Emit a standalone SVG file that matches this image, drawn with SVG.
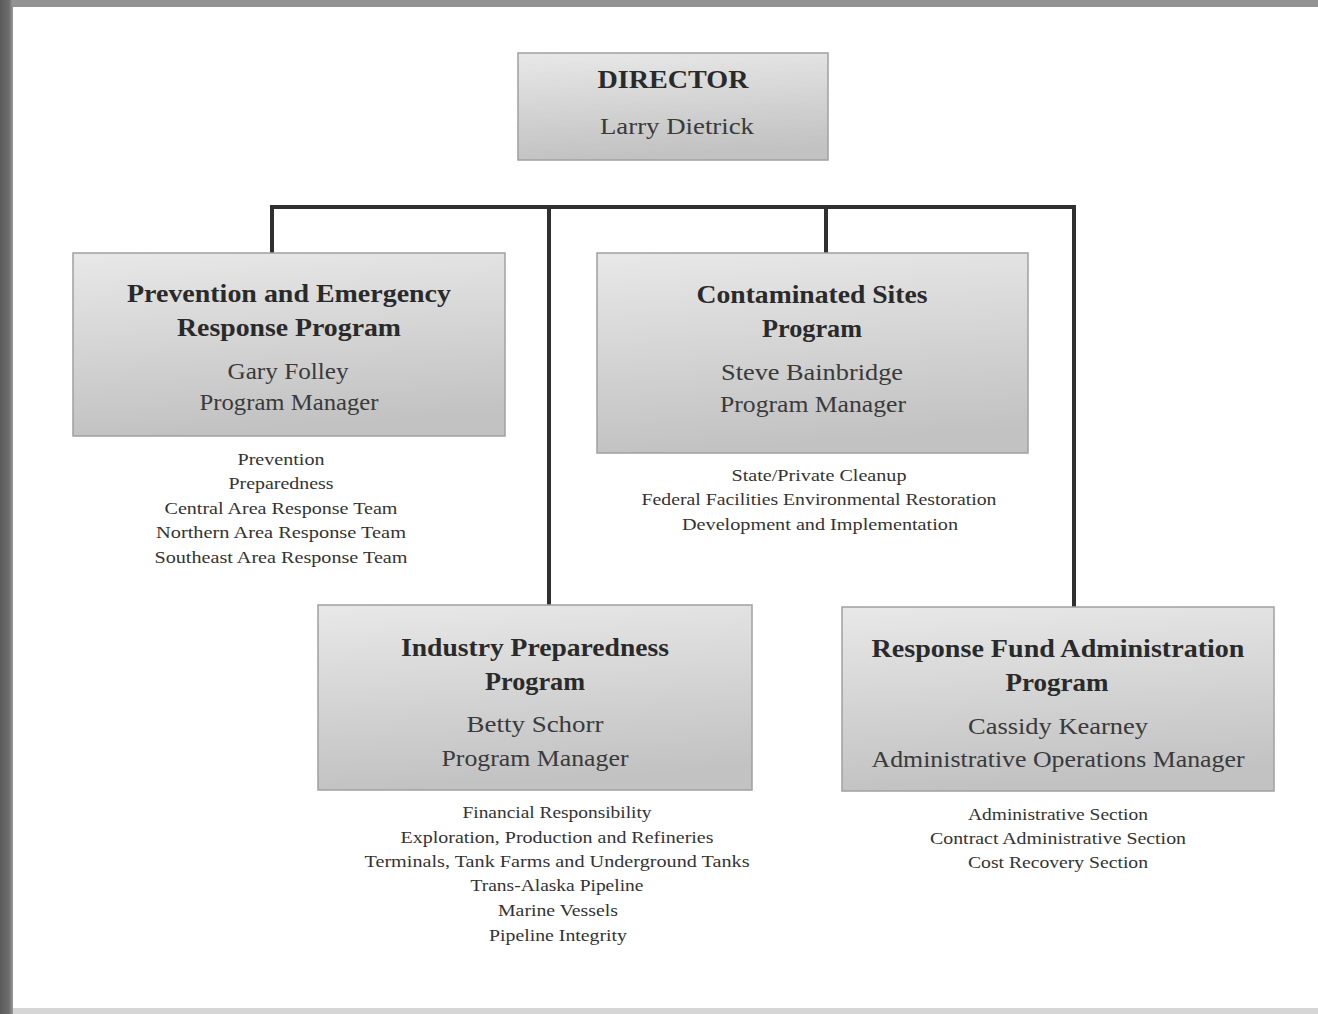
<svg xmlns="http://www.w3.org/2000/svg" width="1318" height="1014" viewBox="0 0 1318 1014">
<defs>
<linearGradient id="boxg" x1="0" y1="0" x2="0.15" y2="1">
<stop offset="0" stop-color="#e8e8e8"/>
<stop offset="1" stop-color="#c2c2c2"/>
</linearGradient>
<linearGradient id="leftb" x1="0" y1="0" x2="1" y2="0">
<stop offset="0" stop-color="#5a5a5a"/>
<stop offset="0.7" stop-color="#6e6e6e"/>
<stop offset="1" stop-color="#9a9a9a"/>
</linearGradient>
</defs>
<style>
.box{fill:url(#boxg);stroke:#a0a0a0;stroke-width:1.5}
.t{font-family:"Liberation Serif","Times New Roman",serif;text-anchor:middle;fill:#2e2e2e}
.b{font-weight:bold;font-size:25px;fill:#2a2a2a}
.n{font-size:24px;fill:#3a3a3a}
.s{font-size:17px;fill:#333}
.c{stroke:#303030;stroke-width:4;fill:none;stroke-linecap:square}
</style>
<rect x="0" y="0" width="1318" height="1014" fill="#ffffff"/>
<rect x="0" y="0" width="1318" height="7" fill="#939393"/>
<rect x="0" y="1008" width="1318" height="6" fill="#d6d6d6"/>
<rect x="0" y="0" width="13" height="1014" fill="url(#leftb)"/>

<g id="connectors">
<path class="c" d="M272 253 V207 H1074 V606"/>
<path class="c" d="M549 207 V605"/>
<path class="c" d="M826 207 V253"/>
</g>

<g id="director">
<rect class="box" x="518" y="53" width="310" height="107"/>
<text class="t b" x="673" y="88" font-size="26" textLength="151" lengthAdjust="spacingAndGlyphs">DIRECTOR</text>
<text class="t n" x="677" y="134" font-size="26" textLength="154" lengthAdjust="spacingAndGlyphs">Larry Dietrick</text>
</g>

<g id="prevention">
<rect class="box" x="73" y="253" width="432" height="183"/>
<text class="t b" x="289" y="302" textLength="324" lengthAdjust="spacingAndGlyphs">Prevention and Emergency</text>
<text class="t b" x="289" y="336" textLength="224" lengthAdjust="spacingAndGlyphs">Response Program</text>
<text class="t n" x="288" y="379" textLength="121" lengthAdjust="spacingAndGlyphs">Gary Folley</text>
<text class="t n" x="289" y="410" textLength="179" lengthAdjust="spacingAndGlyphs">Program Manager</text>
<text class="t s" x="281" y="465" textLength="87" lengthAdjust="spacingAndGlyphs">Prevention</text>
<text class="t s" x="281" y="489" textLength="105" lengthAdjust="spacingAndGlyphs">Preparedness</text>
<text class="t s" x="281" y="514" textLength="233" lengthAdjust="spacingAndGlyphs">Central Area Response Team</text>
<text class="t s" x="281" y="538" textLength="250" lengthAdjust="spacingAndGlyphs">Northern Area Response Team</text>
<text class="t s" x="281" y="563" textLength="253" lengthAdjust="spacingAndGlyphs">Southeast Area Response Team</text>
</g>

<g id="contaminated">
<rect class="box" x="597" y="253" width="431" height="200"/>
<text class="t b" x="812" y="303" textLength="231" lengthAdjust="spacingAndGlyphs">Contaminated Sites</text>
<text class="t b" x="812" y="337" textLength="100" lengthAdjust="spacingAndGlyphs">Program</text>
<text class="t n" x="812" y="380" textLength="182" lengthAdjust="spacingAndGlyphs">Steve Bainbridge</text>
<text class="t n" x="813" y="412" textLength="186" lengthAdjust="spacingAndGlyphs">Program Manager</text>
<text class="t s" x="819" y="481" textLength="175" lengthAdjust="spacingAndGlyphs">State/Private Cleanup</text>
<text class="t s" x="819" y="505" textLength="355" lengthAdjust="spacingAndGlyphs">Federal Facilities Environmental Restoration</text>
<text class="t s" x="820" y="530" textLength="276" lengthAdjust="spacingAndGlyphs">Development and Implementation</text>
</g>

<g id="industry">
<rect class="box" x="318" y="605" width="434" height="185"/>
<text class="t b" x="535" y="656" textLength="268" lengthAdjust="spacingAndGlyphs">Industry Preparedness</text>
<text class="t b" x="535" y="690" textLength="100" lengthAdjust="spacingAndGlyphs">Program</text>
<text class="t n" x="535" y="732" textLength="137" lengthAdjust="spacingAndGlyphs">Betty Schorr</text>
<text class="t n" x="535" y="766" textLength="187" lengthAdjust="spacingAndGlyphs">Program Manager</text>
<text class="t s" x="557" y="818" textLength="189" lengthAdjust="spacingAndGlyphs">Financial Responsibility</text>
<text class="t s" x="557" y="843" textLength="313" lengthAdjust="spacingAndGlyphs">Exploration, Production and Refineries</text>
<text class="t s" x="557" y="867" textLength="385" lengthAdjust="spacingAndGlyphs">Terminals, Tank Farms and Underground Tanks</text>
<text class="t s" x="557" y="891" textLength="173" lengthAdjust="spacingAndGlyphs">Trans-Alaska Pipeline</text>
<text class="t s" x="558" y="916" textLength="120" lengthAdjust="spacingAndGlyphs">Marine Vessels</text>
<text class="t s" x="558" y="941" textLength="138" lengthAdjust="spacingAndGlyphs">Pipeline Integrity</text>
</g>

<g id="responsefund">
<rect class="box" x="842" y="607" width="432" height="184"/>
<text class="t b" x="1058" y="657" textLength="373" lengthAdjust="spacingAndGlyphs">Response Fund Administration</text>
<text class="t b" x="1057" y="691" textLength="103" lengthAdjust="spacingAndGlyphs">Program</text>
<text class="t n" x="1058" y="734" textLength="180" lengthAdjust="spacingAndGlyphs">Cassidy Kearney</text>
<text class="t n" x="1058" y="767" textLength="373" lengthAdjust="spacingAndGlyphs">Administrative Operations Manager</text>
<text class="t s" x="1058" y="820" textLength="180" lengthAdjust="spacingAndGlyphs">Administrative Section</text>
<text class="t s" x="1058" y="844" textLength="256" lengthAdjust="spacingAndGlyphs">Contract Administrative Section</text>
<text class="t s" x="1058" y="868" textLength="180" lengthAdjust="spacingAndGlyphs">Cost Recovery Section</text>
</g>
</svg>
